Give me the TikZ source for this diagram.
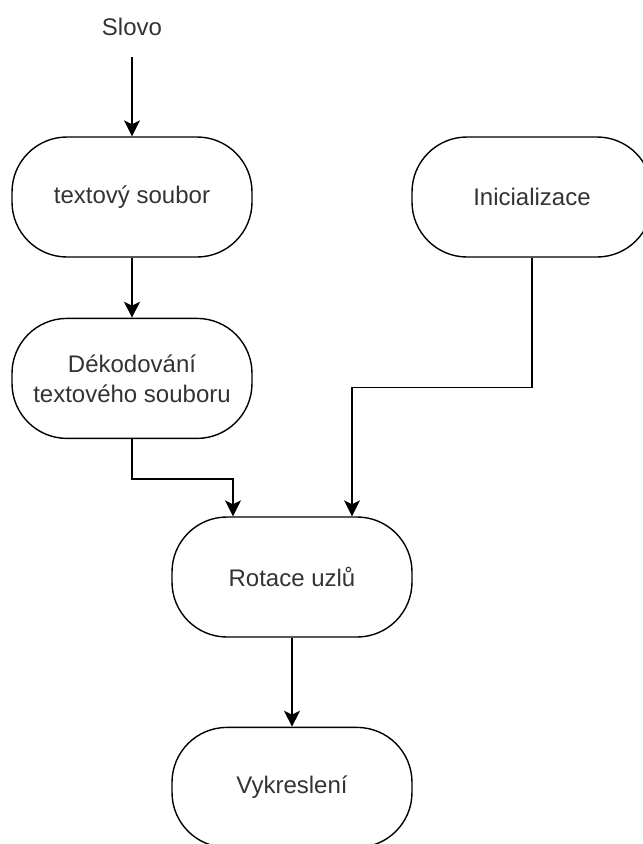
\documentclass[tikz,border=0pt]{standalone}
\usepackage{fontspec}
\setmainfont{Liberation Sans}
\usetikzlibrary{arrows.meta}
\usetikzlibrary{positioning}
\definecolor{labelgrey}{RGB}{51,51,51}

\begin{document}
\begin{tikzpicture}[x=1pt,y=-1pt,
				stadium/.style={rectangle,rounded corners=55pt,draw,line width=1.4pt,minimum width=240pt,minimum height=120pt,align=center,text=labelgrey,font=\fontsize{24}{30}\selectfont},
				plainlabel/.style={text=labelgrey,font=\fontsize{24}{30}\selectfont},
				flow/.style={-{Stealth[length=16pt,width=16pt,inset=4pt]},line width=1.4pt}
				]
				\useasboundingbox (0,0) rectangle (643,844);
				% inputs
				\node (slovo) [plainlabel] at (132,27) {Slovo};
				\coordinate (start) at (132,57);
				\node (textfile) [stadium] at (132,197) {textový soubor};
				\node (decode) [stadium,below=60pt of textfile] {Dékodování\\textového souboru};
				\node (init) [stadium] at (532,197) {Inicializace};
				% processing
				\node (rotace) [stadium] at (292,577) {Rotace uzlů};
				\node (draw) [stadium,below=89pt of rotace] {Vykreslení};
				% connectors
				\draw[flow] (start) -- (textfile);
				\draw[flow] (textfile) -- (decode);
				\draw[flow] (decode.south) -- ++(0,40) -| ([xshift=-59pt]rotace.north);
				\draw[flow] (init.south) -- ++(0,130) -| ([xshift=60pt]rotace.north);
				\draw[flow] (rotace) -- (draw);
\end{tikzpicture}
\end{document}
